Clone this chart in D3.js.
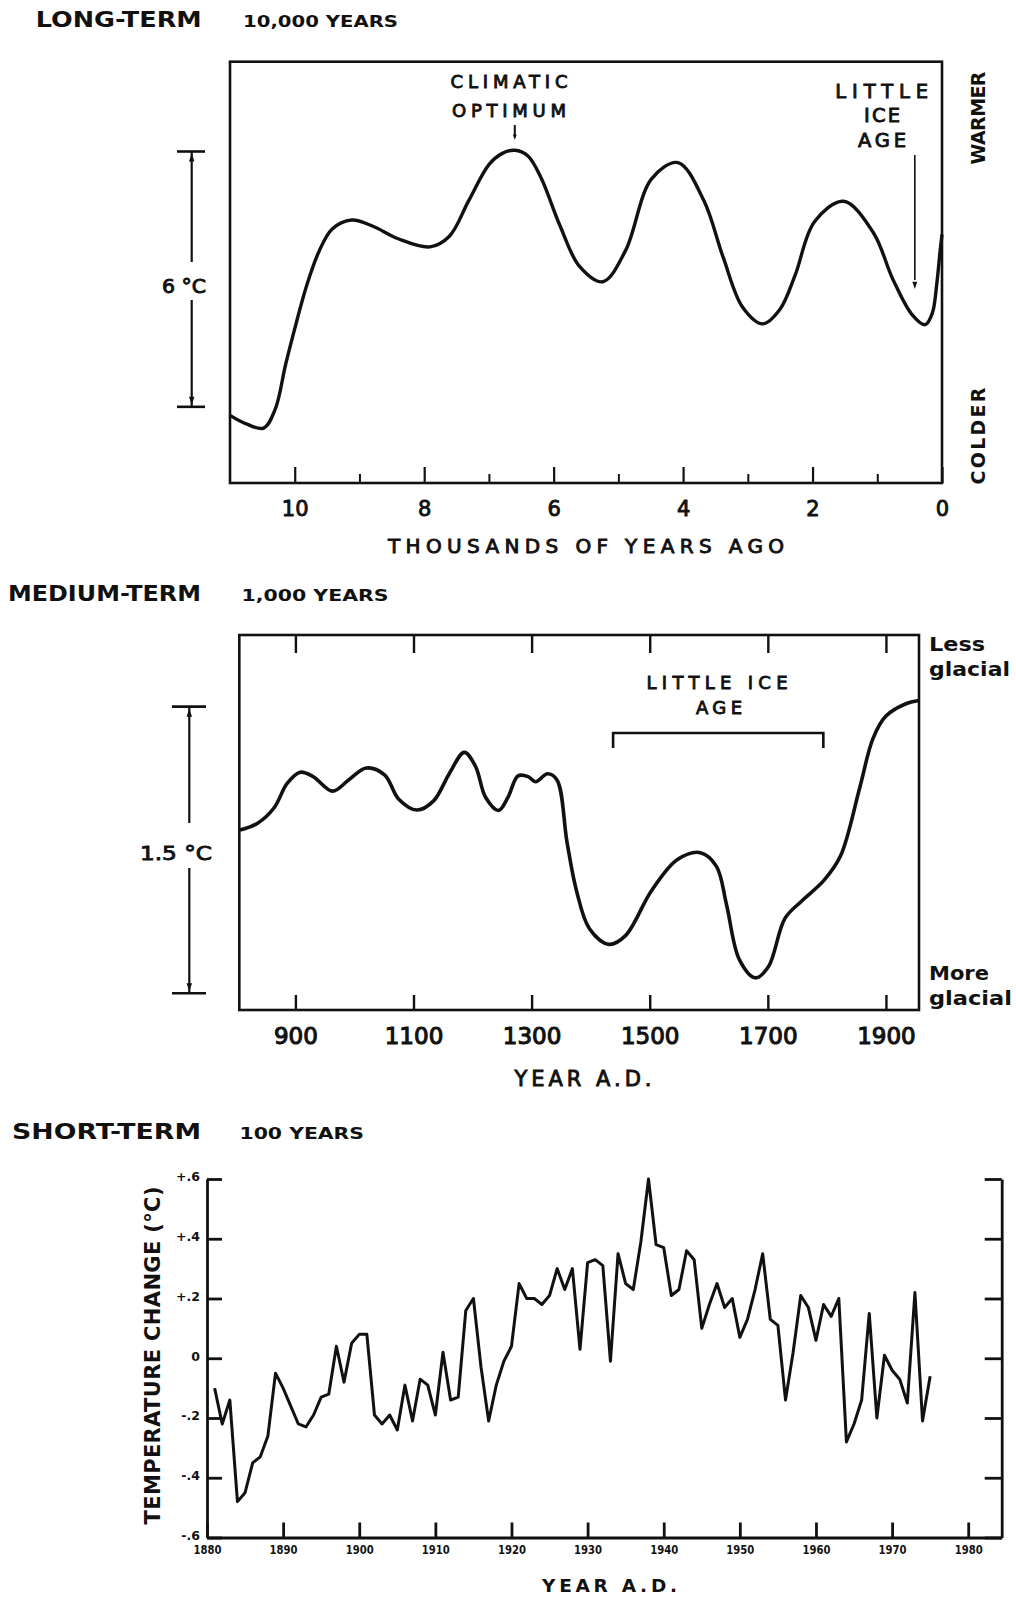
<!DOCTYPE html>
<html><head><meta charset="utf-8">
<script src="https://cdn.jsdelivr.net/npm/d3@7"></script>
<style>body{margin:0;background:#fff}svg{display:block}</style>
</head><body>
<svg id="c" width="1016" height="1598"></svg>
<script>
// ---------- DATA ----------
// Long-term: thousands of years ago vs relative temperature (°C above bar bottom)
const longAgo  = [11.0,10.75,10.48,10.3,10.14,9.98,9.82,9.62,9.42,9.12,8.8,8.4,7.91,7.61,7.31,7.0,6.8,6.6,6.4,6.2,5.9,5.6,5.24,4.89,4.49,4.08,3.68,3.38,3.08,2.77,2.5,2.27,1.97,1.52,1.06,0.76,0.46,0.26,0.15,0.08,0.03,0.0];
const longTemp = [-0.2,-0.4,-0.5,-0.05,1.0,1.95,2.83,3.67,4.18,4.39,4.25,3.95,3.76,4.01,4.85,5.69,5.95,6.03,5.9,5.4,4.25,3.3,2.94,3.67,5.35,5.74,4.85,3.51,2.34,1.95,2.3,3.09,4.35,4.83,4.09,3.0,2.16,1.93,2.2,2.9,3.65,4.05];
const longMajorTicks = [10,8,6,4,2,0];
const longMinorTicks = [9,7,5,3,1];

// Medium-term: year A.D. vs relative temperature
const medYear = [806,836,864,886,908,930,963,990,1020,1051,1075,1106,1134,1161,1186,1205,1222,1244,1260,1277,1294,1307,1327,1343,1360,1376,1398,1431,1459,1503,1547,1586,1613,1630,1652,1679,1701,1729,1757,1795,1823,1856,1878,1900,1933,1956];
const medTemp = [0.854,0.89,0.971,1.098,1.157,1.134,1.058,1.116,1.179,1.143,1.016,0.959,1.007,1.152,1.261,1.188,1.026,0.957,1.026,1.138,1.134,1.107,1.149,1.116,0.79,0.537,0.338,0.256,0.302,0.537,0.7,0.736,0.664,0.465,0.175,0.081,0.139,0.392,0.482,0.591,0.718,1.08,1.333,1.451,1.514,1.532];
const medTicks = [900,1100,1300,1500,1700,1900];

// Short-term: annual temperature change 1881-1975
const shortYears = d3.range(1881, 1976);
const shortTemp = [-0.10,-0.22,-0.14,-0.48,-0.45,-0.35,-0.33,-0.26,-0.05,-0.10,
 -0.16,-0.22,-0.23,-0.19,-0.13,-0.12,0.04,-0.08,0.05,0.08,
 0.08,-0.19,-0.22,-0.19,-0.24,-0.09,-0.21,-0.07,-0.09,-0.19,
 0.02,-0.14,-0.13,0.16,0.20,-0.03,-0.21,-0.09,-0.01,0.04,
 0.25,0.20,0.20,0.18,0.21,0.30,0.23,0.30,0.03,0.32,
 0.33,0.31,-0.01,0.35,0.25,0.23,0.39,0.60,0.38,0.37,
 0.21,0.23,0.36,0.33,0.10,0.18,0.25,0.17,0.20,0.07,
 0.13,0.23,0.35,0.13,0.11,-0.14,0.02,0.21,0.17,0.06,
 0.18,0.14,0.20,-0.28,-0.22,-0.14,0.15,-0.20,0.01,-0.04,
 -0.07,-0.15,0.22,-0.21,-0.06];
const shortYTicks = [0.6,0.4,0.2,0,-0.2,-0.4,-0.6];
const shortYLabels = ["+.6","+.4","+.2","0","-.2","-.4","-.6"];
const shortXTicks = [1880,1890,1900,1910,1920,1930,1940,1950,1960,1970,1980];

// annotation anchors (data units)
const optimumAt = 6.6;        // thousands of years ago
const lilIceArrowAt = 0.42;   // thousands of years ago
const lilIceSpan = [1438, 1794]; // years A.D.

// ---------- DRAWING ----------
const FONT = "'DejaVu Sans','Liberation Sans',Arial,sans-serif";
const INK = "#111";
const svg = d3.select("#c");

function txt(g, s, x, y, o = {}) {
  const t = g.append("text").text(s)
    .attr("font-family", FONT).attr("font-size", o.size || 20)
    .attr("font-weight", o.weight || "bold")
    .attr("text-anchor", o.anchor || "start").attr("fill", INK);
  if (o.len) t.attr("textLength", o.len).attr("lengthAdjust", o.adjust || "spacingAndGlyphs");
  if (o.rotate) t.attr("x", 0).attr("y", 0).attr("transform", `translate(${x},${y}) rotate(${o.rotate})`);
  else t.attr("x", x).attr("y", y);
  if (o.heavy) t.attr("stroke", INK).attr("stroke-width", o.heavy);
  return t;
}
function styleAxis(g, w) {
  g.selectAll("path,line").attr("stroke", INK).attr("stroke-width", w);
  g.selectAll("text").attr("fill", INK).attr("font-family", FONT);
}
function arrowHead(g, x, y, dir, s) { // dir: 1 = down, -1 = up
  g.append("path").attr("d", `M${x-s*0.55},${y - dir*s*1.6}L${x+s*0.55},${y - dir*s*1.6}L${x},${y}Z`).attr("fill", INK);
}

// ===== Panel 1: LONG-TERM =====
const x1 = d3.scaleLinear().domain([11, 0]).range([230, 942]);
const y1 = d3.scaleLinear().domain([-1.79, 8.11]).range([483, 61.7]);
const p1 = svg.append("g");
txt(p1, "LONG-TERM", 35.7, 27, {size: 22, len: 166});
txt(p1, "10,000 YEARS", 243, 27, {size: 16.5, len: 155});

p1.append("rect").attr("x", x1(11)).attr("y", y1(8.11)).attr("width", x1(0) - x1(11)).attr("height", y1(-1.79) - y1(8.11))
  .attr("fill", "none").attr("stroke", INK).attr("stroke-width", 2.6);

const ax1 = p1.append("g").attr("transform", `translate(0,${y1(-1.79)})`)
  .call(d3.axisBottom(x1).tickValues(longMajorTicks).tickSize(-16).tickSizeOuter(0).tickPadding(0));
styleAxis(ax1, 2.2);
ax1.select(".domain").remove();
ax1.selectAll("text").attr("font-size", 21).attr("font-weight", "normal").attr("y", 33).attr("dy", 0)
  .attr("stroke", INK).attr("stroke-width", 0.9);
const ax1m = p1.append("g").attr("transform", `translate(0,${y1(-1.79)})`)
  .call(d3.axisBottom(x1).tickValues(longMinorTicks).tickSize(-9).tickSizeOuter(0).tickFormat(""));
styleAxis(ax1m, 2);
ax1m.select(".domain").remove();

txt(p1, "THOUSANDS OF YEARS AGO", 586, 553, {size: 20, len: 396, adjust: "spacing", anchor: "middle", weight: "normal", heavy: 0.9});

// scale bar 6 °C
const sb1 = p1.append("g").attr("stroke", INK);
sb1.append("line").attr("x1", 191.7).attr("x2", 191.7).attr("y1", y1(6)).attr("y2", 262).attr("stroke-width", 2.2);
sb1.append("line").attr("x1", 191.7).attr("x2", 191.7).attr("y1", 300).attr("y2", y1(0)).attr("stroke-width", 2.2);
sb1.append("line").attr("x1", 177).attr("x2", 205).attr("y1", y1(6)).attr("y2", y1(6)).attr("stroke-width", 2.6);
sb1.append("line").attr("x1", 177).attr("x2", 205).attr("y1", y1(0)).attr("y2", y1(0)).attr("stroke-width", 2.6);
arrowHead(p1, 191.7, y1(6) + 2, -1, 5);
arrowHead(p1, 191.7, y1(0) - 2, 1, 5);
txt(p1, "6 °C", 184, 293, {size: 19, anchor: "middle", len: 44, weight: "normal", heavy: 0.9});

// curve
p1.append("path").datum(longAgo.map((a, i) => [a, longTemp[i]]))
  .attr("d", d3.line().x(d => x1(d[0])).y(d => y1(d[1])).curve(d3.curveCatmullRom.alpha(0.5)))
  .attr("fill", "none").attr("stroke", INK).attr("stroke-width", 3.4).attr("stroke-linejoin", "round");

// annotations
txt(p1, "CLIMATIC", 509, 88.3, {size: 18, anchor: "middle", len: 117, adjust: "spacing", weight: "normal", heavy: 0.9});
txt(p1, "OPTIMUM", 509, 116.7, {size: 18, anchor: "middle", len: 114, adjust: "spacing", weight: "normal", heavy: 0.9});
p1.append("line").attr("x1", x1(optimumAt)).attr("x2", x1(optimumAt)).attr("y1", 125).attr("y2", 137).attr("stroke", INK).attr("stroke-width", 2);
arrowHead(p1, x1(optimumAt), 140, 1, 3.5);

txt(p1, "LITTLE", 881.7, 97.5, {size: 19.5, anchor: "middle", len: 93, adjust: "spacing", weight: "normal", heavy: 0.9});
txt(p1, "ICE", 882, 122, {size: 19.5, anchor: "middle", len: 36, adjust: "spacing", weight: "normal", heavy: 0.9});
txt(p1, "AGE", 882, 147, {size: 19.5, anchor: "middle", len: 48, adjust: "spacing", weight: "normal", heavy: 0.9});
p1.append("line").attr("x1", x1(lilIceArrowAt)).attr("x2", x1(lilIceArrowAt)).attr("y1", 155).attr("y2", 280).attr("stroke", INK).attr("stroke-width", 1.6);
arrowHead(p1, x1(lilIceArrowAt), 289, 1, 4.5);

txt(p1, "WARMER", 985, 118, {size: 19, anchor: "middle", rotate: -90, len: 93, adjust: "spacing"});
txt(p1, "COLDER", 985, 436, {size: 19, anchor: "middle", rotate: -90, len: 97, adjust: "spacing"});

// ===== Panel 2: MEDIUM-TERM =====
const x2 = d3.scaleLinear().domain([805, 1956]).range([239.3, 919]);
const y2 = d3.scaleLinear().domain([-0.0874, 1.875]).range([1010, 635]);
const p2 = svg.append("g");
txt(p2, "MEDIUM-TERM", 8, 601, {size: 22, len: 193});
txt(p2, "1,000 YEARS", 241.5, 601, {size: 16.5, len: 147});

p2.append("rect").attr("x", x2(805)).attr("y", y2(1.875)).attr("width", x2(1956) - x2(805)).attr("height", y2(-0.0874) - y2(1.875))
  .attr("fill", "none").attr("stroke", INK).attr("stroke-width", 2.6);
const ax2b = p2.append("g").attr("transform", `translate(0,${y2(-0.0874)})`)
  .call(d3.axisBottom(x2).tickValues(medTicks).tickSize(-15).tickSizeOuter(0).tickFormat(d3.format("d")));
styleAxis(ax2b, 2.4);
ax2b.select(".domain").remove();
ax2b.selectAll("text").attr("font-size", 23).attr("font-weight", "normal").attr("y", 34).attr("dy", 0)
  .attr("stroke", INK).attr("stroke-width", 1.1);
const ax2t = p2.append("g").attr("transform", `translate(0,${y2(1.875)})`)
  .call(d3.axisTop(x2).tickValues(medTicks).tickSize(-18).tickSizeOuter(0).tickFormat(""));
styleAxis(ax2t, 2.4);
ax2t.select(".domain").remove();

txt(p2, "YEAR A.D.", 583, 1085.5, {size: 21, anchor: "middle", len: 137, adjust: "spacing", weight: "normal", heavy: 0.9});

const sb2 = p2.append("g").attr("stroke", INK);
sb2.append("line").attr("x1", 189.3).attr("x2", 189.3).attr("y1", y2(1.5)).attr("y2", 823).attr("stroke-width", 2.2);
sb2.append("line").attr("x1", 189.3).attr("x2", 189.3).attr("y1", 868).attr("y2", y2(0)).attr("stroke-width", 2.2);
sb2.append("line").attr("x1", 172).attr("x2", 206).attr("y1", y2(1.5)).attr("y2", y2(1.5)).attr("stroke-width", 2.6);
sb2.append("line").attr("x1", 172).attr("x2", 206).attr("y1", y2(0)).attr("y2", y2(0)).attr("stroke-width", 2.6);
arrowHead(p2, 189.3, y2(1.5) + 2, -1, 5);
arrowHead(p2, 189.3, y2(0) - 2, 1, 5);
txt(p2, "1.5 °C", 176, 860, {size: 20, anchor: "middle", len: 72, weight: "normal", heavy: 0.9});

p2.append("path").datum(medYear.map((a, i) => [a, medTemp[i]]))
  .attr("d", d3.line().x(d => x2(d[0])).y(d => y2(d[1])).curve(d3.curveCatmullRom.alpha(0.5)))
  .attr("fill", "none").attr("stroke", INK).attr("stroke-width", 3.6).attr("stroke-linejoin", "round");

txt(p2, "LITTLE ICE", 717, 689, {size: 18, anchor: "middle", len: 141, adjust: "spacing", weight: "normal", heavy: 0.9});
txt(p2, "AGE", 719, 714, {size: 18, anchor: "middle", len: 46, adjust: "spacing", weight: "normal", heavy: 0.9});
p2.append("path").attr("d", `M${x2(lilIceSpan[0])},748V733H${x2(lilIceSpan[1])}V748`)
  .attr("fill", "none").attr("stroke", INK).attr("stroke-width", 2.6);

txt(p2, "Less", 929, 651, {size: 20, len: 56});
txt(p2, "glacial", 929, 676, {size: 20, len: 81});
txt(p2, "More", 929, 980, {size: 20, len: 60});
txt(p2, "glacial", 929, 1005, {size: 20, len: 83});

// ===== Panel 3: SHORT-TERM =====
const x3 = d3.scaleLinear().domain([1880, 1984.4]).range([207, 1001.7]);
const y3 = d3.scaleLinear().domain([-0.6, 0.6]).range([1537.5, 1179]);
const p3 = svg.append("g");
txt(p3, "SHORT-TERM", 12, 1138.5, {size: 22, len: 189});
txt(p3, "100 YEARS", 239.5, 1138.5, {size: 16.5, len: 124.5});

const ax3l = p3.append("g").attr("transform", `translate(${x3(1880)},0)`)
  .call(d3.axisLeft(y3).tickValues(shortYTicks).tickSize(-15).tickSizeOuter(0).tickPadding(7)
    .tickFormat((d, i) => shortYLabels[i]));
styleAxis(ax3l, 2.8);
ax3l.selectAll("text").attr("font-size", 12.5).attr("font-weight", "bold").attr("dy", "0.15em");

const ax3r = p3.append("g").attr("transform", `translate(${x3(1984.4)},0)`)
  .call(d3.axisRight(y3).tickValues(shortYTicks).tickSize(-17).tickSizeOuter(0).tickFormat(""));
styleAxis(ax3r, 2.8);

const ax3b = p3.append("g").attr("transform", `translate(0,${y3(-0.6)})`)
  .call(d3.axisBottom(x3).tickValues(shortXTicks).tickSize(-15).tickSizeOuter(0).tickFormat(d3.format("d")));
styleAxis(ax3b, 2.8);
ax3b.selectAll("text").attr("font-size", 13).attr("font-weight", "bold").attr("y", 16).attr("dy", 0)
  .attr("textLength", 28).attr("lengthAdjust", "spacingAndGlyphs");

txt(p3, "TEMPERATURE CHANGE (°C)", 160, 1355.5, {size: 21, anchor: "middle", rotate: -90, len: 338, adjust: "spacing"});
txt(p3, "YEAR A.D.", 609.5, 1592, {size: 18.5, anchor: "middle", len: 135, adjust: "spacing"});

p3.append("path").datum(shortYears.map((a, i) => [a, shortTemp[i]]))
  .attr("d", d3.line().x(d => x3(d[0])).y(d => y3(d[1])))
  .attr("fill", "none").attr("stroke", INK).attr("stroke-width", 3).attr("stroke-linejoin", "round");
</script>
</body></html>
